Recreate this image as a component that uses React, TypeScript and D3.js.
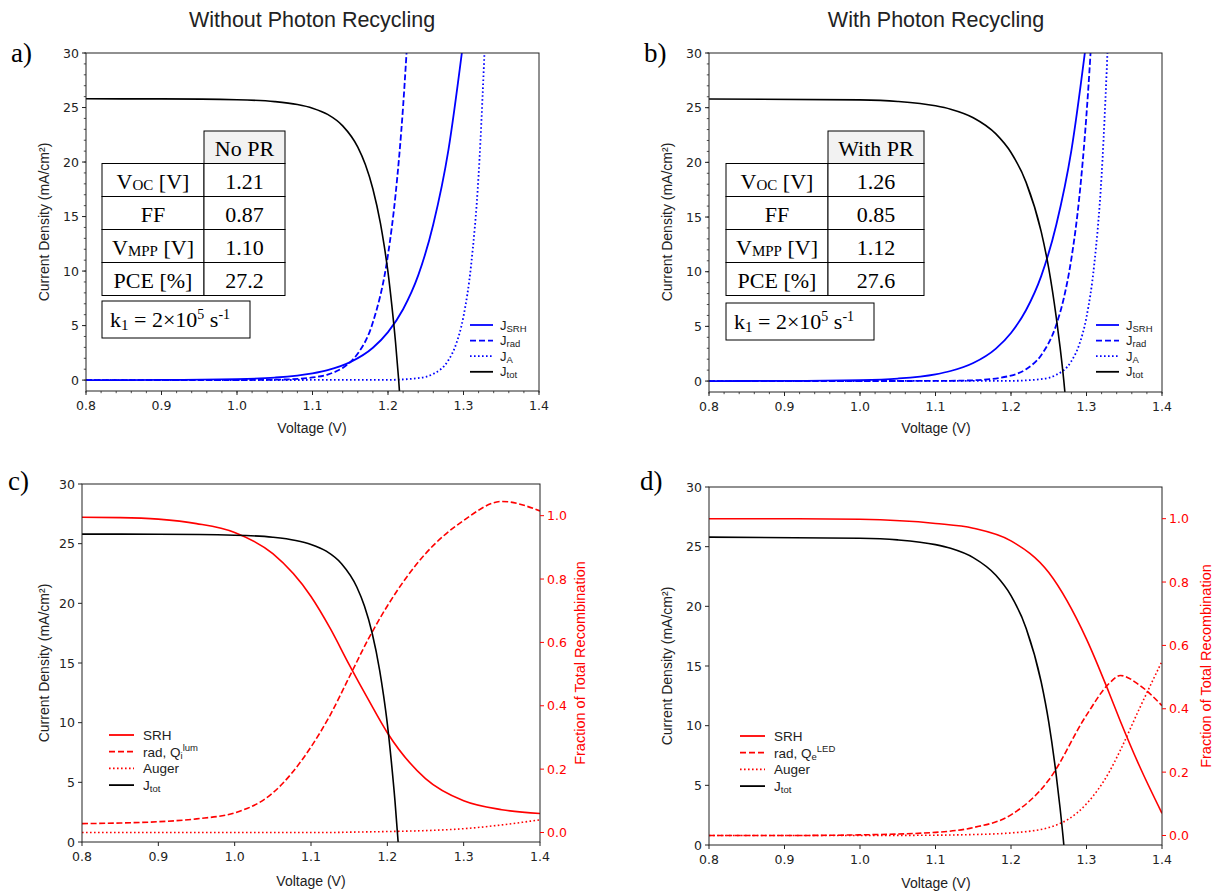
import React from "react";
import * as d3 from "d3";

// ---------- tick labels ----------
const xTicks = [0.8, 0.9, 1.0, 1.1, 1.2, 1.3, 1.4];
const xTickLabels = ["0.8", "0.9", "1.0", "1.1", "1.2", "1.3", "1.4"];
const yTicks = [0, 5, 10, 15, 20, 25, 30];
const fracTicks = [0, 0.2, 0.4, 0.6, 0.8, 1.0];
const fracTickLabels = ["0.0", "0.2", "0.4", "0.6", "0.8", "1.0"];

// ---------- panel a (no photon recycling) current densities ----------
const vSrh = [0.8, 0.9, 1.0, 1.05, 1.1, 1.12, 1.15, 1.18, 1.2, 1.22, 1.24, 1.26, 1.28, 1.3];
const jSrh = [0.002, 0.012, 0.087, 0.23, 0.62, 0.92, 1.65, 2.97, 4.4, 6.5, 9.6, 14.3, 21.1, 31.2];

const vRadA = [0.8, 1.0, 1.05, 1.1, 1.12, 1.14, 1.15, 1.16, 1.18, 1.2, 1.21, 1.22, 1.225];
const jRadA = [0.0, 0.005, 0.034, 0.24, 0.51, 1.12, 1.65, 2.43, 5.3, 11.5, 17.0, 25.1, 30.5];

const vAug = [0.8, 1.2, 1.24, 1.26, 1.28, 1.29, 1.3, 1.31, 1.32, 1.33];
const jAug = [0.0, 0.02, 0.18, 0.57, 1.82, 3.26, 5.85, 10.5, 18.8, 33.7];

const vTotA = [0.8, 0.9, 1.0, 1.05, 1.08, 1.1, 1.12, 1.14, 1.16, 1.17, 1.18, 1.19, 1.195, 1.2, 1.205, 1.21, 1.214, 1.22];
const jTotA = [25.8, 25.79, 25.71, 25.54, 25.27, 24.94, 24.37, 23.32, 21.37, 19.77, 17.53, 14.37, 12.3, 9.9, 6.9, 3.45, 0.13, -5.8];

// ---------- panel b (with photon recycling) ----------
const vRadB = [0.8, 1.1, 1.15, 1.2, 1.22, 1.24, 1.26, 1.27, 1.28, 1.29, 1.3, 1.305, 1.31];
const jRadB = [0.0, 0.01, 0.07, 0.5, 1.09, 2.37, 5.15, 7.6, 11.2, 16.5, 24.4, 29.6, 36.0];

const vTotB = [0.8, 1.0, 1.05, 1.1, 1.12, 1.15, 1.18, 1.2, 1.22, 1.24, 1.25, 1.26, 1.265, 1.27, 1.275];
const jTotB = [25.8, 25.71, 25.57, 25.17, 24.86, 24.08, 22.6, 20.9, 18.17, 13.66, 10.3, 5.8, 3.1, 0.0, -3.7];

// ---------- panel c fractions (no PR) ----------
const vFrac = [0.8, 0.85, 0.9, 0.95, 1.0, 1.05, 1.1, 1.125, 1.15, 1.175, 1.2, 1.25, 1.3, 1.35, 1.4];
const fSrhC = [0.995, 0.994, 0.989, 0.975, 0.947, 0.88, 0.745, 0.645, 0.53, 0.42, 0.315, 0.17, 0.1, 0.072, 0.06];
const fRadC = [0.028, 0.03, 0.034, 0.043, 0.062, 0.125, 0.27, 0.37, 0.49, 0.61, 0.715, 0.88, 0.985, 1.045, 1.015];
const fAugC = [0.0, 0.0, 0.0, 0.0, 0.0, 0.0, 0.0, 0.0, 0.001, 0.002, 0.003, 0.006, 0.012, 0.024, 0.04];

// ---------- panel d fractions (with PR) ----------
const vFracD = [0.8, 0.9, 1.0, 1.1, 1.15, 1.2, 1.25, 1.3, 1.33, 1.345, 1.37, 1.4];
const fSrhD = [1.0, 1.0, 0.998, 0.985, 0.97, 0.93, 0.83, 0.62, 0.45, 0.36, 0.22, 0.07];
const fRadD = [0.0, 0.0, 0.002, 0.01, 0.025, 0.065, 0.175, 0.38, 0.48, 0.505, 0.475, 0.41];
const fAugD = [0.0, 0.0, 0.0, 0.001, 0.003, 0.008, 0.025, 0.1, 0.2, 0.27, 0.4, 0.55];

// ---------- tables ----------
const tableRowLabels = ["OC", "FF", "MPP", "PCE"];
const tableA = ["1.21", "0.87", "1.10", "27.2"];
const tableB = ["1.26", "0.85", "1.12", "27.6"];

const BLUE = "#0000ff";
const RED = "#ff0000";
const AX = "#222";
const SANS = "'Liberation Sans', Arial, Helvetica, sans-serif";
const TICKF = "'DejaVu Sans', sans-serif";
const SERIF = "'Liberation Serif', 'Times New Roman', serif";

type Curve = { v: number[]; y: number[]; color: string; dash?: string; w: number; right?: boolean };

type PanelProps = {
  id: string;
  x0: number;
  x1: number;
  yTop: number;
  yBot: number;
  yDom: [number, number];
  y2Dom?: [number, number];
  minor: boolean;
  curves: Curve[];
};

function Panel({ id, x0, x1, yTop, yBot, yDom, y2Dom, minor, curves }: PanelProps) {
  const x = d3.scaleLinear().domain([0.8, 1.4]).range([x0, x1]);
  const y = d3.scaleLinear().domain(yDom).range([yBot, yTop]);
  const y2 = y2Dom ? d3.scaleLinear().domain(y2Dom).range([yBot, yTop]) : null;
  const xMinor = minor ? d3.range(0.8, 1.4001, 0.02).map((d) => +d.toFixed(2)) : [];
  const yMinor = minor ? d3.range(0, 30.001, 1) : [];
  return (
    <g>
      <defs>
        <clipPath id={"clip-" + id}>
          <rect x={x0} y={yTop} width={x1 - x0} height={yBot - yTop} />
        </clipPath>
      </defs>
      <g clipPath={`url(#clip-${id})`}>
        {curves.map((c, i) => {
          const sc = c.right && y2 ? y2 : y;
          const line = d3
            .line<number>()
            .x((_, k) => x(c.v[k]))
            .y((d) => sc(d))
            .curve(d3.curveMonotoneX);
          return (
            <path
              key={i}
              d={line(c.y) || ""}
              fill="none"
              stroke={c.color}
              strokeWidth={c.w}
              strokeDasharray={c.dash}
            />
          );
        })}
      </g>
      <rect x={x0} y={yTop} width={x1 - x0} height={yBot - yTop} fill="none" stroke={AX} strokeWidth={1} />
      {xMinor.map((t, i) => (
        <line key={"xm" + i} x1={x(t)} x2={x(t)} y1={yBot} y2={yBot + 2.2} stroke={AX} strokeWidth={0.8} />
      ))}
      {xTicks.map((t, i) => (
        <g key={"x" + i}>
          <line x1={x(t)} x2={x(t)} y1={yBot} y2={yBot + 4} stroke={AX} strokeWidth={1} />
          <text x={x(t)} y={yBot + 19} textAnchor="middle" fontFamily={TICKF} fontSize={12.5} fill={AX}>
            {xTickLabels[i]}
          </text>
        </g>
      ))}
      {yMinor.map((t, i) => (
        <line key={"ym" + i} x1={x0} x2={x0 - 2.2} y1={y(t)} y2={y(t)} stroke={AX} strokeWidth={0.8} />
      ))}
      {yTicks.map((t, i) => (
        <g key={"y" + i}>
          <line x1={x0} x2={x0 - 4} y1={y(t)} y2={y(t)} stroke={AX} strokeWidth={1} />
          <text x={x0 - 7} y={y(t) + 4.5} textAnchor="end" fontFamily={TICKF} fontSize={12.5} fill={AX}>
            {String(t)}
          </text>
        </g>
      ))}
      {y2 &&
        fracTicks.map((t, i) => (
          <g key={"y2" + i}>
            <line x1={x1} x2={x1 + 4} y1={y2(t)} y2={y2(t)} stroke={RED} strokeWidth={1} />
            <text x={x1 + 7} y={y2(t) + 4.5} textAnchor="start" fontFamily={TICKF} fontSize={12.5} fill={RED}>
              {fracTickLabels[i]}
            </text>
          </g>
        ))}
    </g>
  );
}

function YLabel({ x, y, color }: { x: number; y: number; color?: string }) {
  return (
    <text
      transform={`translate(${x},${y}) rotate(-90)`}
      textAnchor="middle"
      fontFamily={SANS}
      fontSize={14}
      fill={color || AX}
    >
      Current Density (mA/cm²)
    </text>
  );
}

function Table({ x0, x1, x2, header, values }: { x0: number; x1: number; x2: number; header: string; values: string[] }) {
  const rows = [131, 163.5, 196.5, 229.5, 262.5, 295.5];
  const fs = 22;
  const label = (i: number, cx: number, cy: number) => {
    if (i === 0 || i === 2)
      return (
        <text x={cx} y={cy} textAnchor="middle" fontFamily={SERIF} fontSize={fs}>
          V<tspan fontSize={15} dy={1}>{tableRowLabels[i]}</tspan>
          <tspan dy={-1}> [V]</tspan>
        </text>
      );
    if (i === 1)
      return (
        <text x={cx} y={cy} textAnchor="middle" fontFamily={SERIF} fontSize={fs}>
          FF
        </text>
      );
    return (
      <text x={cx} y={cy} textAnchor="middle" fontFamily={SERIF} fontSize={fs}>
        PCE [%]
      </text>
    );
  };
  return (
    <g>
      <rect x={x1} y={rows[0]} width={x2 - x1} height={rows[1] - rows[0]} fill="#f2f2f2" stroke="#000" strokeWidth={1} />
      <text x={(x1 + x2) / 2} y={rows[0] + 25} textAnchor="middle" fontFamily={SERIF} fontSize={fs}>
        {header}
      </text>
      {values.map((v, i) => (
        <g key={i}>
          <rect x={x0} y={rows[i + 1]} width={x1 - x0} height={rows[i + 2] - rows[i + 1]} fill="#fff" stroke="#000" strokeWidth={1} />
          <rect x={x1} y={rows[i + 1]} width={x2 - x1} height={rows[i + 2] - rows[i + 1]} fill="#fff" stroke="#000" strokeWidth={1} />
          {label(i, (x0 + x1) / 2, rows[i + 1] + 25)}
          <text x={(x1 + x2) / 2} y={rows[i + 1] + 25} textAnchor="middle" fontFamily={SERIF} fontSize={fs}>
            {v}
          </text>
        </g>
      ))}
    </g>
  );
}

function K1Box({ x, y }: { x: number; y: number }) {
  return (
    <g>
      <rect x={x} y={y} width={148} height={37} fill="#fff" stroke="#000" strokeWidth={1} />
      <text x={x + 8} y={y + 26} fontFamily={SERIF} fontSize={22}>
        k<tspan fontSize={15} dy={3}>1</tspan>
        <tspan dy={-3}> = 2×10</tspan>
        <tspan fontSize={14} dy={-8}>5</tspan>
        <tspan dy={8}> s</tspan>
        <tspan fontSize={14} dy={-8}>-1</tspan>
      </text>
    </g>
  );
}

function BlueLegend({ x, y }: { x: number; y: number }) {
  const items = [
    { sub: "SRH", color: BLUE, dash: undefined },
    { sub: "rad", color: BLUE, dash: "6 3" },
    { sub: "A", color: BLUE, dash: "1.6 2.4" },
    { sub: "tot", color: "#000", dash: undefined },
  ];
  return (
    <g>
      {items.map((it, i) => (
        <g key={i}>
          <line x1={x} x2={x + 23} y1={y + i * 15.6} y2={y + i * 15.6} stroke={it.color} strokeWidth={1.8} strokeDasharray={it.dash} />
          <text x={x + 30} y={y + i * 15.6 + 4.5} fontFamily={SANS} fontSize={13} fill={AX}>
            J<tspan fontSize={9.5} dy={2}>{it.sub}</tspan>
          </text>
        </g>
      ))}
    </g>
  );
}

function RedLegend({ x, y, which }: { x: number; y: number; which: "c" | "d" }) {
  const dy = 16.7;
  return (
    <g fontFamily={SANS} fontSize={13.5} fill={AX}>
      <line x1={x} x2={x + 25} y1={y} y2={y} stroke={RED} strokeWidth={1.8} />
      <text x={x + 34} y={y + 5}>SRH</text>
      <line x1={x} x2={x + 25} y1={y + dy} y2={y + dy} stroke={RED} strokeWidth={1.8} strokeDasharray="6 3" />
      <text x={x + 34} y={y + dy + 5}>
        rad, Q<tspan fontSize={9.5} dy={2}>{which === "c" ? "i" : "e"}</tspan>
        <tspan fontSize={9.5} dy={-8}>{which === "c" ? "lum" : "LED"}</tspan>
      </text>
      <line x1={x} x2={x + 25} y1={y + 2 * dy} y2={y + 2 * dy} stroke={RED} strokeWidth={1.8} strokeDasharray="1.6 2.4" />
      <text x={x + 34} y={y + 2 * dy + 5}>Auger</text>
      <line x1={x} x2={x + 25} y1={y + 3 * dy} y2={y + 3 * dy} stroke="#000" strokeWidth={1.8} />
      <text x={x + 34} y={y + 3 * dy + 5}>
        J<tspan fontSize={9.5} dy={2}>tot</tspan>
      </text>
    </g>
  );
}

export default function App() {
  const dashed = "6 2.6";
  const dotted = "1.6 2.4";
  const curvesA: Curve[] = [
    { v: vSrh, y: jSrh, color: BLUE, w: 1.8 },
    { v: vRadA, y: jRadA, color: BLUE, w: 1.8, dash: dashed },
    { v: vAug, y: jAug, color: BLUE, w: 1.8, dash: dotted },
    { v: vTotA, y: jTotA, color: "#000", w: 1.6 },
  ];
  const curvesB: Curve[] = [
    { v: vSrh, y: jSrh, color: BLUE, w: 1.8 },
    { v: vRadB, y: jRadB, color: BLUE, w: 1.8, dash: dashed },
    { v: vAug, y: jAug, color: BLUE, w: 1.8, dash: dotted },
    { v: vTotB, y: jTotB, color: "#000", w: 1.6 },
  ];
  const curvesC: Curve[] = [
    { v: vFrac, y: fSrhC, color: RED, w: 1.6, right: true },
    { v: vFrac, y: fRadC, color: RED, w: 1.6, dash: dashed, right: true },
    { v: vFrac, y: fAugC, color: RED, w: 1.6, dash: dotted, right: true },
    { v: vTotA, y: jTotA, color: "#000", w: 1.6 },
  ];
  const curvesD: Curve[] = [
    { v: vFracD, y: fSrhD, color: RED, w: 1.6, right: true },
    { v: vFracD, y: fRadD, color: RED, w: 1.6, dash: dashed, right: true },
    { v: vFracD, y: fAugD, color: RED, w: 1.6, dash: dotted, right: true },
    { v: vTotB, y: jTotB, color: "#000", w: 1.6 },
  ];
  return (
    <svg width={1214} height={892} style={{ position: "absolute", left: 0, top: 0, background: "#fff" }}>
      <rect x={0} y={0} width={1214} height={892} fill="#fff" />
      <text x={312} y={27} textAnchor="middle" fontFamily={SANS} fontSize={21.5} fill={AX}>
        Without Photon Recycling
      </text>
      <text x={936} y={27} textAnchor="middle" fontFamily={SANS} fontSize={21.5} fill={AX}>
        With Photon Recycling
      </text>
      <text x={11} y={62} fontFamily={SERIF} fontSize={27} fill="#000">a)</text>
      <text x={644} y={62} fontFamily={SERIF} fontSize={27} fill="#000">b)</text>
      <text x={8} y={490} fontFamily={SERIF} fontSize={27} fill="#000">c)</text>
      <text x={640} y={490} fontFamily={SERIF} fontSize={27} fill="#000">d)</text>

      <Panel id="a" x0={86} x1={539} yTop={53} yBot={391} yDom={[-1, 30]} minor={true} curves={curvesA} />
      <Panel id="b" x0={709} x1={1162} yTop={53} yBot={392} yDom={[-1, 30]} minor={true} curves={curvesB} />
      <Panel id="c" x0={82} x1={540} yTop={484} yBot={842} yDom={[0, 30]} y2Dom={[-0.03, 1.1]} minor={false} curves={curvesC} />
      <Panel id="d" x0={709} x1={1162} yTop={487} yBot={845} yDom={[0, 30]} y2Dom={[-0.03, 1.1]} minor={false} curves={curvesD} />

      <YLabel x={49} y={222} />
      <YLabel x={672} y={222} />
      <YLabel x={49} y={663} />
      <YLabel x={672} y={666} />
      <text transform="translate(585,663) rotate(-90)" textAnchor="middle" fontFamily={SANS} fontSize={14.5} fill={RED}>
        Fraction of Total Recombination
      </text>
      <text transform="translate(1211,666) rotate(-90)" textAnchor="middle" fontFamily={SANS} fontSize={14.5} fill={RED}>
        Fraction of Total Recombination
      </text>
      <text x={312} y={433} textAnchor="middle" fontFamily={SANS} fontSize={14} fill={AX}>Voltage (V)</text>
      <text x={936} y={433} textAnchor="middle" fontFamily={SANS} fontSize={14} fill={AX}>Voltage (V)</text>
      <text x={311} y={886} textAnchor="middle" fontFamily={SANS} fontSize={14} fill={AX}>Voltage (V)</text>
      <text x={936} y={888} textAnchor="middle" fontFamily={SANS} fontSize={14} fill={AX}>Voltage (V)</text>

      <Table x0={102} x1={204} x2={285} header="No PR" values={tableA} />
      <K1Box x={102} y={301} />
      <Table x0={726} x1={828} x2={924} header="With PR" values={tableB} />
      <K1Box x={726} y={303} />

      <BlueLegend x={470} y={325} />
      <BlueLegend x={1096} y={325} />
      <RedLegend x={109} y={735} which="c" />
      <RedLegend x={740} y={736} which="d" />
    </svg>
  );
}
